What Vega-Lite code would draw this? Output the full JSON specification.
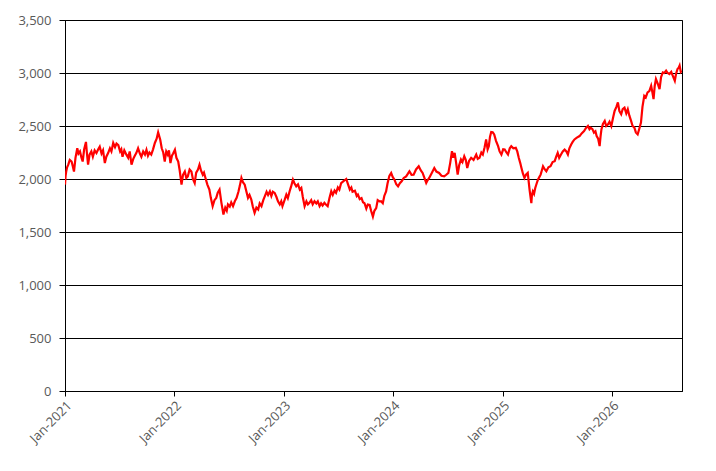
{
  "$schema": "https://vega.github.io/schema/vega-lite/v6.json",
  "width": 617,
  "height": 371,
  "autosize": "none",
  "padding": {"left": 65, "top": 20, "right": 34, "bottom": 80},
  "data": {
    "values": [
      {"d":"2021-01-01","v":1947},{"d":"2021-01-03","v":2030},{"d":"2021-01-05","v":2070},{"d":"2021-01-08","v":2110},
      {"d":"2021-01-12","v":2135},{"d":"2021-01-17","v":2180},{"d":"2021-01-23","v":2165},{"d":"2021-01-27","v":2120},
      {"d":"2021-01-31","v":2070},{"d":"2021-02-05","v":2200},{"d":"2021-02-11","v":2290},{"d":"2021-02-15","v":2240},
      {"d":"2021-02-20","v":2260},{"d":"2021-02-25","v":2200},{"d":"2021-03-01","v":2165},{"d":"2021-03-06","v":2280},
      {"d":"2021-03-12","v":2350},{"d":"2021-03-15","v":2250},{"d":"2021-03-19","v":2135},{"d":"2021-03-24","v":2230},
      {"d":"2021-03-30","v":2260},{"d":"2021-04-04","v":2210},{"d":"2021-04-10","v":2270},{"d":"2021-04-16","v":2245},
      {"d":"2021-04-22","v":2280},{"d":"2021-04-27","v":2305},{"d":"2021-05-03","v":2240},{"d":"2021-05-08","v":2270},
      {"d":"2021-05-14","v":2150},{"d":"2021-05-19","v":2210},{"d":"2021-05-25","v":2245},{"d":"2021-05-31","v":2290},
      {"d":"2021-06-05","v":2260},{"d":"2021-06-11","v":2340},{"d":"2021-06-17","v":2300},{"d":"2021-06-22","v":2335},
      {"d":"2021-06-28","v":2320},{"d":"2021-07-04","v":2260},{"d":"2021-07-08","v":2280},{"d":"2021-07-12","v":2210},
      {"d":"2021-07-18","v":2270},{"d":"2021-07-25","v":2230},{"d":"2021-07-31","v":2200},{"d":"2021-08-05","v":2260},
      {"d":"2021-08-11","v":2135},{"d":"2021-08-17","v":2190},{"d":"2021-08-22","v":2220},{"d":"2021-08-27","v":2245},
      {"d":"2021-09-02","v":2290},{"d":"2021-09-08","v":2240},{"d":"2021-09-13","v":2210},{"d":"2021-09-19","v":2260},
      {"d":"2021-09-25","v":2230},{"d":"2021-09-30","v":2275},{"d":"2021-10-05","v":2220},{"d":"2021-10-10","v":2250},
      {"d":"2021-10-16","v":2230},{"d":"2021-10-22","v":2280},{"d":"2021-10-28","v":2340},{"d":"2021-11-03","v":2380},
      {"d":"2021-11-08","v":2440},{"d":"2021-11-12","v":2400},{"d":"2021-11-15","v":2370},{"d":"2021-11-20","v":2290},
      {"d":"2021-11-25","v":2250},{"d":"2021-11-30","v":2165},{"d":"2021-12-05","v":2260},{"d":"2021-12-10","v":2230},
      {"d":"2021-12-14","v":2270},{"d":"2021-12-19","v":2150},{"d":"2021-12-24","v":2220},{"d":"2021-12-28","v":2240},
      {"d":"2022-01-03","v":2275},{"d":"2022-01-08","v":2200},{"d":"2022-01-14","v":2165},{"d":"2022-01-19","v":2080},
      {"d":"2022-01-25","v":1947},{"d":"2022-01-30","v":2040},{"d":"2022-02-05","v":2070},{"d":"2022-02-10","v":2010},
      {"d":"2022-02-15","v":2025},{"d":"2022-02-21","v":2090},{"d":"2022-02-27","v":2070},{"d":"2022-03-04","v":2000},
      {"d":"2022-03-10","v":1962},{"d":"2022-03-15","v":2060},{"d":"2022-03-21","v":2090},{"d":"2022-03-26","v":2135},
      {"d":"2022-03-31","v":2080},{"d":"2022-04-06","v":2040},{"d":"2022-04-10","v":2060},{"d":"2022-04-15","v":2010},
      {"d":"2022-04-21","v":1950},{"d":"2022-04-28","v":1900},{"d":"2022-05-03","v":1820},{"d":"2022-05-09","v":1744},
      {"d":"2022-05-15","v":1800},{"d":"2022-05-21","v":1822},{"d":"2022-05-26","v":1870},{"d":"2022-06-01","v":1900},
      {"d":"2022-06-07","v":1780},{"d":"2022-06-14","v":1665},{"d":"2022-06-20","v":1730},{"d":"2022-06-25","v":1700},
      {"d":"2022-06-29","v":1760},{"d":"2022-07-05","v":1740},{"d":"2022-07-10","v":1780},{"d":"2022-07-16","v":1744},
      {"d":"2022-07-22","v":1790},{"d":"2022-07-28","v":1822},{"d":"2022-08-03","v":1880},{"d":"2022-08-08","v":1940},
      {"d":"2022-08-13","v":2010},{"d":"2022-08-18","v":1970},{"d":"2022-08-24","v":1947},{"d":"2022-08-29","v":1890},
      {"d":"2022-09-04","v":1822},{"d":"2022-09-09","v":1850},{"d":"2022-09-15","v":1806},{"d":"2022-09-20","v":1740},
      {"d":"2022-09-26","v":1681},{"d":"2022-10-02","v":1730},{"d":"2022-10-08","v":1712},{"d":"2022-10-13","v":1770},
      {"d":"2022-10-19","v":1744},{"d":"2022-10-25","v":1800},{"d":"2022-10-30","v":1837},{"d":"2022-11-05","v":1880},
      {"d":"2022-11-10","v":1850},{"d":"2022-11-16","v":1884},{"d":"2022-11-21","v":1840},{"d":"2022-11-26","v":1880},
      {"d":"2022-12-02","v":1869},{"d":"2022-12-08","v":1830},{"d":"2022-12-13","v":1790},{"d":"2022-12-19","v":1760},
      {"d":"2022-12-24","v":1790},{"d":"2022-12-28","v":1744},
      {"d":"2023-01-04","v":1800},{"d":"2023-01-10","v":1853},{"d":"2023-01-15","v":1820},{"d":"2023-01-21","v":1884},
      {"d":"2023-01-26","v":1930},{"d":"2023-02-01","v":1994},{"d":"2023-02-06","v":1960},{"d":"2023-02-12","v":1931},
      {"d":"2023-02-18","v":1950},{"d":"2023-02-24","v":1900},{"d":"2023-03-01","v":1916},{"d":"2023-03-06","v":1830},
      {"d":"2023-03-12","v":1744},{"d":"2023-03-18","v":1790},{"d":"2023-03-23","v":1760},{"d":"2023-03-28","v":1775},
      {"d":"2023-04-03","v":1800},{"d":"2023-04-08","v":1760},{"d":"2023-04-14","v":1790},{"d":"2023-04-20","v":1770},
      {"d":"2023-04-25","v":1790},{"d":"2023-05-01","v":1744},{"d":"2023-05-06","v":1770},{"d":"2023-05-11","v":1750},
      {"d":"2023-05-17","v":1775},{"d":"2023-05-22","v":1760},{"d":"2023-05-28","v":1744},{"d":"2023-06-03","v":1820},
      {"d":"2023-06-09","v":1884},{"d":"2023-06-14","v":1850},{"d":"2023-06-20","v":1890},{"d":"2023-06-25","v":1869},
      {"d":"2023-07-01","v":1920},{"d":"2023-07-06","v":1900},{"d":"2023-07-12","v":1962},{"d":"2023-07-20","v":1980},
      {"d":"2023-07-29","v":2000},{"d":"2023-08-04","v":1950},{"d":"2023-08-10","v":1900},{"d":"2023-08-15","v":1920},
      {"d":"2023-08-19","v":1880},{"d":"2023-08-27","v":1890},{"d":"2023-09-02","v":1840},{"d":"2023-09-06","v":1853},
      {"d":"2023-09-12","v":1810},{"d":"2023-09-18","v":1820},{"d":"2023-09-23","v":1780},{"d":"2023-09-28","v":1772},
      {"d":"2023-10-04","v":1720},{"d":"2023-10-09","v":1760},{"d":"2023-10-15","v":1756},{"d":"2023-10-20","v":1700},
      {"d":"2023-10-26","v":1645},{"d":"2023-10-31","v":1700},{"d":"2023-11-06","v":1725},{"d":"2023-11-11","v":1800},
      {"d":"2023-11-17","v":1788},{"d":"2023-11-22","v":1790},{"d":"2023-11-28","v":1772},{"d":"2023-12-03","v":1840},
      {"d":"2023-12-09","v":1883},{"d":"2023-12-14","v":1960},{"d":"2023-12-20","v":2030},{"d":"2023-12-26","v":2057},
      {"d":"2023-12-31","v":2020},
      {"d":"2024-01-06","v":1994},{"d":"2024-01-12","v":1950},{"d":"2024-01-18","v":1930},{"d":"2024-01-24","v":1960},
      {"d":"2024-01-30","v":1978},{"d":"2024-02-06","v":2010},{"d":"2024-02-14","v":2025},{"d":"2024-02-20","v":2050},
      {"d":"2024-02-25","v":2073},{"d":"2024-03-03","v":2040},{"d":"2024-03-10","v":2041},{"d":"2024-03-18","v":2090},
      {"d":"2024-03-27","v":2120},{"d":"2024-04-03","v":2080},{"d":"2024-04-09","v":2057},{"d":"2024-04-15","v":2010},
      {"d":"2024-04-21","v":1962},{"d":"2024-04-26","v":1990},{"d":"2024-05-01","v":2010},{"d":"2024-05-10","v":2060},
      {"d":"2024-05-18","v":2104},{"d":"2024-05-25","v":2070},{"d":"2024-06-03","v":2057},{"d":"2024-06-11","v":2030},
      {"d":"2024-06-20","v":2025},{"d":"2024-06-27","v":2040},{"d":"2024-07-04","v":2057},{"d":"2024-07-10","v":2150},
      {"d":"2024-07-16","v":2263},{"d":"2024-07-20","v":2200},{"d":"2024-07-25","v":2247},{"d":"2024-07-30","v":2150},
      {"d":"2024-08-04","v":2041},{"d":"2024-08-09","v":2130},{"d":"2024-08-15","v":2184},{"d":"2024-08-20","v":2160},
      {"d":"2024-08-26","v":2215},{"d":"2024-08-31","v":2180},{"d":"2024-09-05","v":2104},{"d":"2024-09-11","v":2170},
      {"d":"2024-09-18","v":2200},{"d":"2024-09-26","v":2180},{"d":"2024-10-05","v":2231},{"d":"2024-10-10","v":2190},
      {"d":"2024-10-16","v":2200},{"d":"2024-10-22","v":2250},{"d":"2024-10-27","v":2231},{"d":"2024-11-02","v":2300},
      {"d":"2024-11-07","v":2373},{"d":"2024-11-12","v":2280},{"d":"2024-11-16","v":2310},{"d":"2024-11-20","v":2400},
      {"d":"2024-11-24","v":2443},{"d":"2024-11-29","v":2440},{"d":"2024-12-04","v":2421},{"d":"2024-12-10","v":2360},
      {"d":"2024-12-17","v":2310},{"d":"2024-12-22","v":2260},{"d":"2024-12-28","v":2231},
      {"d":"2025-01-03","v":2280},{"d":"2025-01-08","v":2278},{"d":"2025-01-14","v":2250},{"d":"2025-01-19","v":2231},
      {"d":"2025-01-25","v":2290},{"d":"2025-01-30","v":2310},{"d":"2025-02-06","v":2290},{"d":"2025-02-14","v":2294},
      {"d":"2025-02-19","v":2260},{"d":"2025-02-24","v":2200},{"d":"2025-03-01","v":2150},{"d":"2025-03-05","v":2104},
      {"d":"2025-03-10","v":2050},{"d":"2025-03-15","v":2010},{"d":"2025-03-20","v":2040},{"d":"2025-03-26","v":2057},
      {"d":"2025-04-01","v":1900},{"d":"2025-04-07","v":1772},{"d":"2025-04-09","v":1850},{"d":"2025-04-12","v":1883},
      {"d":"2025-04-16","v":1860},{"d":"2025-04-20","v":1915},{"d":"2025-04-25","v":1960},{"d":"2025-04-29","v":1994},
      {"d":"2025-05-04","v":2020},{"d":"2025-05-08","v":2041},{"d":"2025-05-12","v":2080},{"d":"2025-05-16","v":2120},
      {"d":"2025-05-22","v":2090},{"d":"2025-05-27","v":2073},{"d":"2025-06-03","v":2110},{"d":"2025-06-10","v":2120},
      {"d":"2025-06-17","v":2160},{"d":"2025-06-24","v":2168},{"d":"2025-06-29","v":2210},{"d":"2025-07-04","v":2247},
      {"d":"2025-07-09","v":2200},{"d":"2025-07-15","v":2231},{"d":"2025-07-21","v":2260},{"d":"2025-07-27","v":2278},
      {"d":"2025-08-02","v":2260},{"d":"2025-08-07","v":2231},{"d":"2025-08-12","v":2290},{"d":"2025-08-18","v":2326},
      {"d":"2025-08-23","v":2350},{"d":"2025-08-29","v":2373},{"d":"2025-09-06","v":2390},{"d":"2025-09-15","v":2405},
      {"d":"2025-09-22","v":2430},{"d":"2025-09-30","v":2453},{"d":"2025-10-06","v":2480},{"d":"2025-10-13","v":2500},
      {"d":"2025-10-18","v":2470},{"d":"2025-10-22","v":2484},{"d":"2025-10-28","v":2470},{"d":"2025-11-02","v":2437},
      {"d":"2025-11-07","v":2450},{"d":"2025-11-11","v":2405},{"d":"2025-11-16","v":2380},{"d":"2025-11-21","v":2310},
      {"d":"2025-11-24","v":2400},{"d":"2025-11-27","v":2468},{"d":"2025-12-02","v":2520},{"d":"2025-12-08","v":2548},
      {"d":"2025-12-13","v":2500},{"d":"2025-12-19","v":2516},{"d":"2025-12-24","v":2540},{"d":"2025-12-30","v":2500},
      {"d":"2026-01-05","v":2580},{"d":"2026-01-10","v":2642},{"d":"2026-01-16","v":2680},{"d":"2026-01-21","v":2722},
      {"d":"2026-01-26","v":2640},{"d":"2026-02-01","v":2611},{"d":"2026-02-06","v":2660},{"d":"2026-02-12","v":2674},
      {"d":"2026-02-18","v":2620},{"d":"2026-02-23","v":2658},{"d":"2026-02-28","v":2600},{"d":"2026-03-06","v":2548},
      {"d":"2026-03-11","v":2500},{"d":"2026-03-17","v":2484},{"d":"2026-03-22","v":2440},{"d":"2026-03-28","v":2421},
      {"d":"2026-04-02","v":2470},{"d":"2026-04-08","v":2532},{"d":"2026-04-13","v":2680},{"d":"2026-04-19","v":2785},
      {"d":"2026-04-24","v":2770},{"d":"2026-04-30","v":2817},{"d":"2026-05-06","v":2830},{"d":"2026-05-12","v":2880},
      {"d":"2026-05-16","v":2820},{"d":"2026-05-20","v":2753},{"d":"2026-05-24","v":2880},{"d":"2026-05-28","v":2943},
      {"d":"2026-06-03","v":2900},{"d":"2026-06-09","v":2848},{"d":"2026-06-14","v":2960},{"d":"2026-06-20","v":3006},
      {"d":"2026-06-25","v":3000},{"d":"2026-07-01","v":3022},{"d":"2026-07-06","v":3000},{"d":"2026-07-12","v":2990},
      {"d":"2026-07-18","v":3010},{"d":"2026-07-23","v":2975},{"d":"2026-07-30","v":2927},{"d":"2026-08-03","v":2990},
      {"d":"2026-08-08","v":3038},{"d":"2026-08-12","v":3050},{"d":"2026-08-15","v":3070},{"d":"2026-08-19","v":3010},
      {"d":"2026-08-23","v":3022}
    ]
  },
  "mark": {"type": "line", "color": "#FF0000", "strokeWidth": 2.2, "clip": true},
  "encoding": {
    "x": {
      "field": "d",
      "type": "temporal",
      "title": null,
      "scale": {
        "type": "utc",
        "domain": [
          {"year": 2021, "month": 1, "date": 1, "utc": true},
          {"year": 2026, "month": 8, "date": 23, "utc": true}
        ]
      },
      "axis": {
        "values": [
          {"year": 2021, "month": 1, "date": 1, "utc": true},
          {"year": 2022, "month": 1, "date": 1, "utc": true},
          {"year": 2023, "month": 1, "date": 1, "utc": true},
          {"year": 2024, "month": 1, "date": 1, "utc": true},
          {"year": 2025, "month": 1, "date": 1, "utc": true},
          {"year": 2026, "month": 1, "date": 1, "utc": true}
        ],
        "labelExpr": "utcFormat(datum.value, '%b-%Y')",
        "labelAngle": -45,
        "grid": false,
        "tickSize": 5,
        "labelPadding": 3
      }
    },
    "y": {
      "field": "v",
      "type": "quantitative",
      "title": null,
      "scale": {"domain": [0, 3500], "nice": false},
      "axis": {
        "values": [0, 500, 1000, 1500, 2000, 2500, 3000, 3500],
        "format": ",.0f",
        "grid": true,
        "tickSize": 6,
        "labelPadding": 8
      }
    }
  },
  "config": {
    "view": {"stroke": "#000000", "strokeWidth": 1},
    "axis": {
      "domainColor": "#000000",
      "domainWidth": 1,
      "tickColor": "#000000",
      "gridColor": "#000000",
      "gridWidth": 1,
      "gridOpacity": 1,
      "labelColor": "#595959",
      "labelFont": "Open Sans",
      "labelFontSize": 13
    }
  }
}
